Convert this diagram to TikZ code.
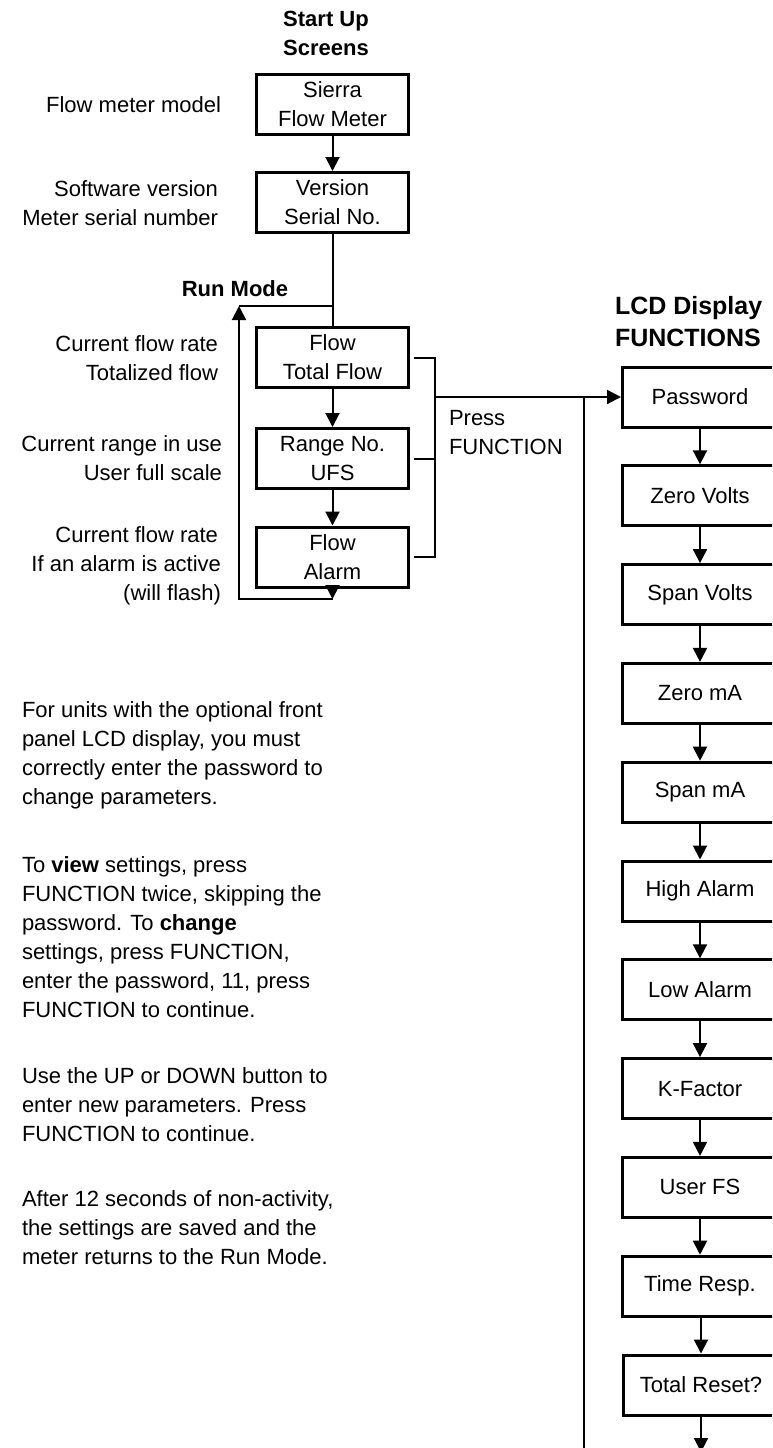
\documentclass[tikz,border=0pt]{standalone}
\usepackage{fontspec}
\setmainfont{Liberation Sans}
\usetikzlibrary{arrows.meta}

\begin{document}
\begin{tikzpicture}[x=1pt,y=-1pt,->,>={Triangle[length=14pt,width=14pt]},line width=2pt,
      box/.style={draw,line width=3pt,minimum width=152pt,minimum height=60pt,inner sep=0pt,align=center,font=\fontsize{22}{29}\selectfont},
      lcd/.style={box,minimum width=155pt},
      note/.style={anchor=east,align=right,inner sep=0pt,font=\fontsize{22}{29}\selectfont},
      para/.style={anchor=base west,align=left,inner sep=0pt,font=\fontsize{22}{29}\selectfont},
      head/.style={inner sep=0pt,align=center,font=\bfseries\fontsize{22}{29}\selectfont}]
      \useasboundingbox (0,0) rectangle (772,1448);
      \clip (0,0) rectangle (772,1448);

      % start up screens
      \node[head] (startup) at (326,33) {Start Up\\Screens};
      \node[box] (sierra) at (332.5,104.5) {Sierra\\Flow Meter};
      \node[box] (version) at (332.5,202.5) {Version\\Serial No.};
      \node[head] (runmode) at (235,289) {Run Mode};
      \node[box] (flow) at (332.5,357.5) {Flow\\Total Flow};
      \node[box] (range) at (332.5,458.5) {Range No.\\UFS};
      \node[box] (alarm) at (332.5,557) {Flow\\Alarm};

      \node[note] (model) at (222,105) {Flow meter model};
      \node[note] (vers) at (219,203) {Software version\\Meter serial number};
      \node[note] (rate) at (219,358) {Current flow rate\\Totalized flow};
      \node[note] (ufs) at (223,458) {Current range in use\\User full scale};
      \node[note] (alm) at (222,566) {Current flow rate\hspace*{3pt}\\If an alarm is active\hspace*{12pt}\\(will flash)};

      \coordinate (join) at (332.5,306);
      \coordinate (runup) at (239,306);
      \coordinate (loopR) at (332.5,599);
      \coordinate (loopL) at (239,599);
      \coordinate (brk) at (435,397);
      \coordinate (split) at (584,397);
      \coordinate (down) at (584,1460);

      \path
      (sierra) edge (version)
      (flow) edge (range)
      (range) edge (alarm);
      \draw[-] (version) -- (flow);
      \draw[-] (join) -- (runup);
      \draw (alarm) -- (loopR);
      \draw (loopR) -- (loopL) -- (runup);

      % press function bracket
      \draw[-] ([xshift=4pt]flow.east) -- (flow.east -| brk) -- (alarm.east -| brk) -- ([xshift=4pt]alarm.east);
      \draw[-] ([xshift=4pt]range.east) -- (range.east -| brk);
      \node[anchor=west,align=left,inner sep=0pt,font=\fontsize{22}{29}\selectfont] (press) at (448,433) {Press\\FUNCTION};

      % lcd display functions
      \node[head,anchor=west,align=left,font=\bfseries\fontsize{25}{32}\selectfont] (lcdtitle) at (614,322) {LCD Display\\FUNCTIONS};
      \node[lcd] (pw) at (700,397) {Password};
      \node[lcd] (zv) at (700,495.8) {Zero Volts};
      \node[lcd] (sv) at (700,594.6) {Span Volts};
      \node[lcd] (zma) at (700,693.4) {Zero mA};
      \node[lcd] (sma) at (700,792.2) {Span mA};
      \node[lcd] (hi) at (700,891) {High Alarm};
      \node[lcd] (lo) at (700,989.8) {Low Alarm};
      \node[lcd] (kf) at (700,1088.6) {K-Factor};
      \node[lcd] (ufsbox) at (700,1187.4) {User FS};
      \node[lcd] (tr) at (700,1286.2) {Time Resp.};
      \node[lcd] (reset) at (701,1385) {Total Reset?};
      \coordinate (more) at (701,1452);

      \draw (brk) -- (pw);
      \draw[-] (split) -- (down);

      \path
      (pw) edge (zv)
      (zv) edge (sv)
      (sv) edge (zma)
      (zma) edge (sma)
      (sma) edge (hi)
      (hi) edge (lo)
      (lo) edge (kf)
      (kf) edge (ufsbox)
      (ufsbox) edge (tr);
      \draw (tr.south -| reset) -- (reset);
      \draw (reset) -- (more);

      % help text (base = last line)
      \node[para] (p1) at (21,804) {For units with the optional front\\panel LCD display, you must\\correctly enter the password to\\change parameters.};
      \node[para] (p2) at (21,1017) {To \textbf{view} settings, press\\FUNCTION twice, skipping the\\password. To \textbf{change}\\settings, press FUNCTION,\\enter the password, 11, press\\FUNCTION to continue.};
      \node[para] (p3) at (21,1141) {Use the UP or DOWN button to\\enter new parameters. Press\\FUNCTION to continue.};
      \node[para] (p4) at (21,1264) {After 12 seconds of non-activity,\\the settings are saved and the\\meter returns to the Run Mode.};
\end{tikzpicture}
\end{document}
